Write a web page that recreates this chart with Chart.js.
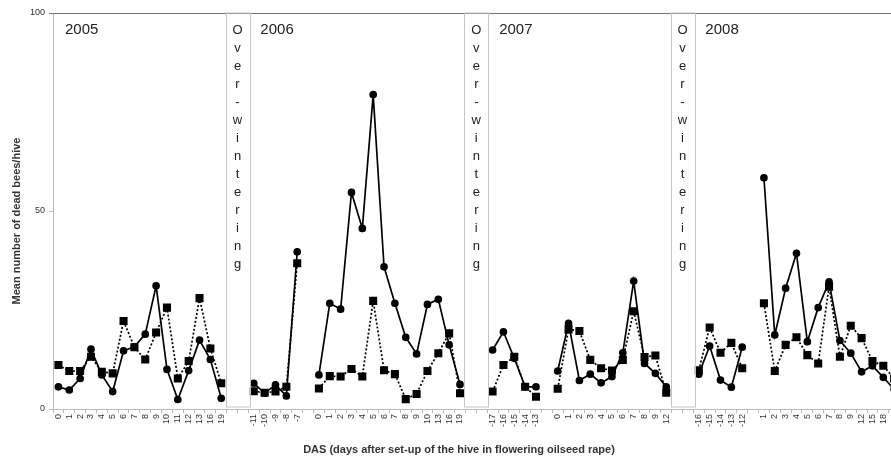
<!DOCTYPE html>
<html>
<head>
<meta charset="utf-8">
<script src="https://cdn.jsdelivr.net/npm/chart.js"></script>
<style>
body { margin: 0; overflow: hidden; background: #fff; }
</style>
</head>
<body>
<canvas id="line-chart" width="906" height="459"></canvas>
<script>
// 2005 (no pre-period shown)
var days2005 = ['0','1','2','3','4','5','6','7','8','9','10','11','12','13','16','19'];
var solid2005 = [5.6,4.8,7.7,15.1,8.6,4.4,14.7,15.7,18.9,31.1,10.0,2.4,9.7,17.4,12.5,2.7];
var dotted2005 = [11.1,9.6,9.6,13.2,9.4,9.0,22.2,15.6,12.5,19.3,25.6,7.7,12.1,28.0,15.3,6.5];

// 2006
var daysPre2006 = ['-11','-10','-9','-8','-7'];
var solidPre2006 = [6.5,4.0,6.1,3.3,39.7];
var dottedPre2006 = [4.5,4.1,4.4,5.6,36.8];
var days2006 = ['0','1','2','3','4','5','6','7','8','9','10','13','16','19'];
var solid2006 = [8.6,26.7,25.2,54.7,45.6,79.4,35.9,26.7,18.1,13.9,26.4,27.7,16.2,6.2];
var dotted2006 = [5.2,8.3,8.2,10.1,8.2,27.3,9.8,8.8,2.5,3.8,9.6,14.1,19.1,4.0];

// 2007
var daysPre2007 = ['-17','-16','-15','-14','-13'];
var solidPre2007 = [14.9,19.5,12.8,5.6,5.6];
var dottedPre2007 = [4.4,11.1,13.2,5.6,3.1];
var days2007 = ['0','1','2','3','4','5','6','7','8','9','12'];
var solid2007 = [9.6,21.6,7.2,8.8,6.6,8.2,14.2,32.3,11.5,9.0,5.6];
var dotted2007 = [5.1,20.1,19.7,12.4,10.3,9.7,12.4,24.7,13.1,13.5,4.1];

// 2008
var daysPre2008 = ['-16','-15','-14','-13','-12'];
var solidPre2008 = [8.8,15.9,7.3,5.5,15.6];
var dottedPre2008 = [9.8,20.6,14.2,16.7,10.3];
var days2008 = ['1','2','3','4','5','6','7','8','9','12','15','18','21'];
var solid2008 = [58.4,18.7,30.5,39.3,17.0,25.6,32.1,17.3,14.1,9.4,10.9,8.0,5.0];
var dotted2008 = [26.7,9.6,16.2,18.1,13.6,11.5,30.9,13.2,21.0,17.9,12.1,10.9,7.7];

var years = ['2005','2006','2007','2008'];

// build the category axis: periods separated by empty slots
var labels = [], solid = [], dotted = [];
var yearStart = [], winterStart = [];

function addPeriod(d, s, t){
	for (var i = 0; i < d.length; i++){
		labels.push(d[i]);
		solid.push(s[i]);
		dotted.push(t[i]);
	}
}
function addGap(n){
	for (var i = 0; i < n; i++){
		labels.push('');
		solid.push(null);
		dotted.push(null);
	}
}

yearStart.push(labels.length);
addPeriod(days2005, solid2005, dotted2005);
winterStart.push(labels.length); addGap(2);
yearStart.push(labels.length);
addPeriod(daysPre2006, solidPre2006, dottedPre2006); addGap(1);
addPeriod(days2006, solid2006, dotted2006);
winterStart.push(labels.length); addGap(2);
yearStart.push(labels.length);
addPeriod(daysPre2007, solidPre2007, dottedPre2007); addGap(1);
addPeriod(days2007, solid2007, dotted2007);
winterStart.push(labels.length); addGap(2);
yearStart.push(labels.length);
addPeriod(daysPre2008, solidPre2008, dottedPre2008); addGap(1);
addPeriod(days2008, solid2008, dotted2008);

var decor = {
	id: 'decor',
	afterDraw: function(chart){
		var ctx = chart.ctx;
		var xs = chart.scales.x;
		var area = chart.chartArea;
		var w = xs.getPixelForValue(1) - xs.getPixelForValue(0);
		ctx.save();
		// frame top
		ctx.strokeStyle = '#777';
		ctx.lineWidth = 1;
		ctx.beginPath();
		ctx.moveTo(area.left - 4, area.top + 0.5);
		ctx.lineTo(chart.width, area.top + 0.5);
		ctx.stroke();

		// over-wintering boxes
		var letters = 'Over-wintering'.split('');
		for (var k = 0; k < winterStart.length; k++){
			var c = (xs.getPixelForValue(winterStart[k]) + xs.getPixelForValue(winterStart[k] + 1)) / 2;
			ctx.strokeStyle = '#c4c4c4';
			ctx.strokeRect(Math.round(c - 12) + 0.5, area.top, 24, area.bottom - area.top - 2);
			ctx.fillStyle = '#222';
			ctx.font = '13px "Liberation Sans", Arial, sans-serif';
			ctx.textAlign = 'center';
			ctx.textBaseline = 'alphabetic';
			for (var j = 0; j < letters.length; j++){
				ctx.fillText(letters[j], c, area.top + 21 + j * 18);
			}
		}

		// year labels
		ctx.font = '15px "Liberation Sans", Arial, sans-serif';
		ctx.textAlign = 'left';
		ctx.fillStyle = '#222';
		for (var k = 0; k < yearStart.length; k++){
			var x0 = xs.getPixelForValue(yearStart[k]) - w / 2;
			ctx.fillText(years[k], x0 + 12, area.top + 21);
		}

		// axis titles
		ctx.font = 'bold 11px "Liberation Sans", Arial, sans-serif';
		ctx.fillStyle = '#333';
		ctx.textAlign = 'center';
		ctx.textBaseline = 'middle';
		ctx.fillText('DAS (days after set-up of the hive in flowering oilseed rape)', 459, 450);
		ctx.translate(17, 221);
		ctx.rotate(-Math.PI / 2);
		ctx.fillText('Mean number of dead bees/hive', 0, 0);
		ctx.restore();
	}
};

new Chart(document.getElementById('line-chart'), {
	type: 'line',
	data: {
		labels: labels,
		datasets: [
			{
				label: 'solid',
				data: solid,
				borderColor: '#000',
				backgroundColor: '#000',
				borderWidth: 1.7,
				pointStyle: 'circle',
				pointRadius: 3,
				pointBackgroundColor: '#000',
				pointBorderColor: '#000',
				fill: false,
				tension: 0
			},
			{
				label: 'dotted',
				data: dotted,
				borderColor: '#000',
				backgroundColor: '#000',
				borderWidth: 1.7,
				borderDash: [2, 2],
				pointStyle: 'rect',
				pointRadius: 4.5,
				pointBackgroundColor: '#000',
				pointBorderColor: '#000',
				fill: false,
				tension: 0
			}
		]
	},
	options: {
		responsive: false,
		animation: false,
		layout: { padding: { top: 13, right: 0, left: 0, bottom: 0 } },
		plugins: {
			legend: { display: false },
			tooltip: { enabled: false }
		},
		scales: {
			x: {
				type: 'category',
				offset: true,
				grid: { offset: true, drawOnChartArea: false, drawTicks: true, tickLength: 4, color: '#bbb' },
				border: { color: '#bbb' },
				ticks: {
					autoSkip: false,
					maxRotation: 90,
					minRotation: 90,
					padding: 1,
					color: '#333',
					font: { size: 9, family: '"Liberation Sans", Arial, sans-serif' }
				},
				afterFit: function(s){ s.height = 50; }
			},
			y: {
				min: 0,
				max: 100,
				grid: { drawOnChartArea: false, drawTicks: true, tickLength: 4, color: '#bbb' },
				border: { color: '#bbb' },
				ticks: {
					stepSize: 50,
					padding: 4,
					color: '#333',
					font: { size: 9, family: '"Liberation Sans", Arial, sans-serif' }
				},
				afterFit: function(s){ s.width = 53; }
			}
		}
	},
	plugins: [decor]
});
</script>
</body>
</html>
